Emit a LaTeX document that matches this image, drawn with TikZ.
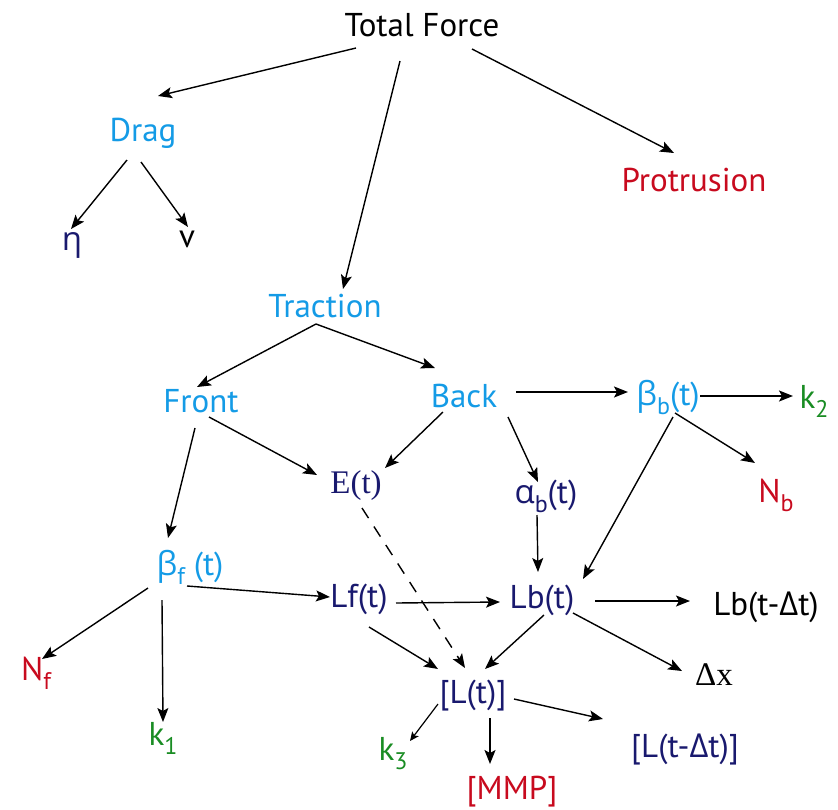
\documentclass[tikz,border=0pt]{standalone}
\usepackage{fontspec}
\setmainfont{PT Sans}
\newfontfamily\grk{Open Sans}
\newfontfamily\srf{Liberation Serif}
\usetikzlibrary{arrows.meta}
\definecolor{lblue}{RGB}{20,155,230}
\definecolor{navy}{RGB}{25,25,110}
\definecolor{dred}{RGB}{200,10,30}
\definecolor{dgreen}{RGB}{25,140,35}
\newcommand\sbs[1]{\raisebox{-0.3em}{\fontsize{24}{24}\selectfont #1}}
\tikzset{
  lab/.style={inner sep=0pt, anchor=base, font=\fontsize{33}{39}\selectfont},
  arr/.style={-{Stealth[length=14pt,width=11pt,inset=3pt]}, line width=1.4pt},
  sarr/.style={-{Stealth[length=9pt,width=8pt,inset=2pt]}, line width=1.2pt},
  dsh/.style={arr, dash pattern=on 12pt off 10pt},
}
\begin{document}
\begin{tikzpicture}[x=1pt,y=-1pt]
\useasboundingbox (0,0) rectangle (838,809);
\node[lab] (tf) at (422,36) {Total Force};
\node[lab,text=lblue] (drag) at (143,141) {Drag};
\node[lab,text=dred] (prot) at (694,191) {Protrusion};
\node[lab,text=navy] (eta) at (72,250) {\grk η};
\node[lab] (v) at (187,247) {v};
\node[lab,text=lblue] (tr) at (325,317) {Traction};
\node[lab,text=lblue] (front) at (201,412) {Front};
\node[lab,text=lblue] (back) at (464,407) {Back};
\node[lab,text=lblue] (bb) at (668,405) {{\grk β}\sbs{b}(t)};
\node[lab,text=dgreen] (k2) at (814,408) {k\sbs{2}};
\node[lab,text=navy] (E) at (356,493) {\srf E(t)};
\node[lab,text=navy] (ab) at (546,503) {{\grk α}\sbs{b}(t)};
\node[lab,text=dred] (nb) at (776,502) {N\sbs{b}};
\node[lab,text=lblue] (bf) at (190,575) {{\grk β}\sbs{f} (t)};
\node[lab,text=navy] (lf) at (359,607) {Lf(t)};
\node[lab,text=dred] (nf) at (36,680) {N\sbs{f}};
\node[lab,text=dgreen] (k1) at (163,745) {k\sbs{1}};
\node[lab,text=dgreen] (k3) at (393,760) {k\sbs{3}};
\node[lab,text=navy] (lb) at (542,608) {Lb(t)};
\node[lab] (lbd) at (766,615) {Lb(t-{\grk Δ}t)};
\node[lab] (dx) at (714,685) {\srf Δx};
\node[lab,text=navy] (lt) at (473,703) {[L(t)]};
\node[lab,text=navy] (ltd) at (685,757) {[L(t-{\grk Δ}t)]};
\node[lab,text=dred] (mmp) at (512,799) {[MMP]};
% connectors
\draw[arr] ([shift={(-66,12)}]tf.base) -- ([shift={(15,-45)}]drag.base);
\draw[arr] ([shift={(-22,25)}]tf.base) -- ([shift={(18,-28)}]tr.base);
\draw[arr] ([shift={(50,13)}]tf.base) -- ([shift={(-20,-38)}]prot.base);
\draw[arr] ([shift={(-16,19)}]drag.base) -- ([shift={(-1,-21)}]eta.base);
\draw[arr] ([shift={(-2,21)}]drag.base) -- ([shift={(1,-20)}]v.base);
\draw[arr] ([shift={(-9,7)}]tr.base) -- ([shift={(-4,-25)}]front.base);
\draw[arr] ([shift={(-9,7)}]tr.base) -- ([shift={(-29,-39)}]back.base);
\draw[arr] ([shift={(-6,16)}]front.base) -- ([shift={(-22,-37)}]bf.base);
\draw[arr] ([shift={(8,5)}]front.base) -- ([shift={(-39,-18)}]E.base);
\draw[arr] ([shift={(-21,5)}]back.base) -- ([shift={(29,-25)}]E.base);
\draw[arr] ([shift={(52,-15)}]back.base) -- ([shift={(-40,-13)}]bb.base);
\draw[arr] ([shift={(44,10)}]back.base) -- ([shift={(-8,-21)}]ab.base);
\draw[arr] ([shift={(32,-9)}]bb.base) -- ([shift={(-21,-12)}]k2.base);
\draw[arr] ([shift={(7,8)}]bb.base) -- ([shift={(-21,-39)}]nb.base);
\draw[arr] ([shift={(5,12)}]bb.base) -- ([shift={(41,-29)}]lb.base);
\draw[arr] ([shift={(-9,12)}]ab.base) -- ([shift={(-4,-36)}]lb.base);
\draw[dsh] ([shift={(6,15)}]E.base) -- ([shift={(-8,-35)}]lt.base);
\draw[arr] ([shift={(-3,11)}]bf.base) -- ([shift={(-29,-10)}]lf.base);
\draw[arr] ([shift={(-42,13)}]bf.base) -- ([shift={(6,-21)}]nf.base);
\draw[arr] ([shift={(-28,25)}]bf.base) -- ([shift={(0,-23)}]k1.base);
\draw[arr] ([shift={(37,-4)}]lf.base) -- ([shift={(-42,-6)}]lb.base);
\draw[arr] ([shift={(10,20)}]lf.base) -- ([shift={(-35,-34)}]lt.base);
\draw[arr] ([shift={(53,-7)}]lb.base) -- ([shift={(-76,-14)}]lbd.base);
\draw[arr] ([shift={(2,7)}]lb.base) -- ([shift={(12,-34)}]lt.base);
\draw[arr] ([shift={(31,5)}]lb.base) -- ([shift={(-32,-14)}]dx.base);
\draw[sarr] ([shift={(-35,1)}]lt.base) -- ([shift={(17,-19)}]k3.base);
\draw[arr] ([shift={(41,-4)}]lt.base) -- ([shift={(-82,-38)}]ltd.base);
\draw[arr] ([shift={(17,15)}]lt.base) -- ([shift={(-22,-35)}]mmp.base);
\end{tikzpicture}
\end{document}
